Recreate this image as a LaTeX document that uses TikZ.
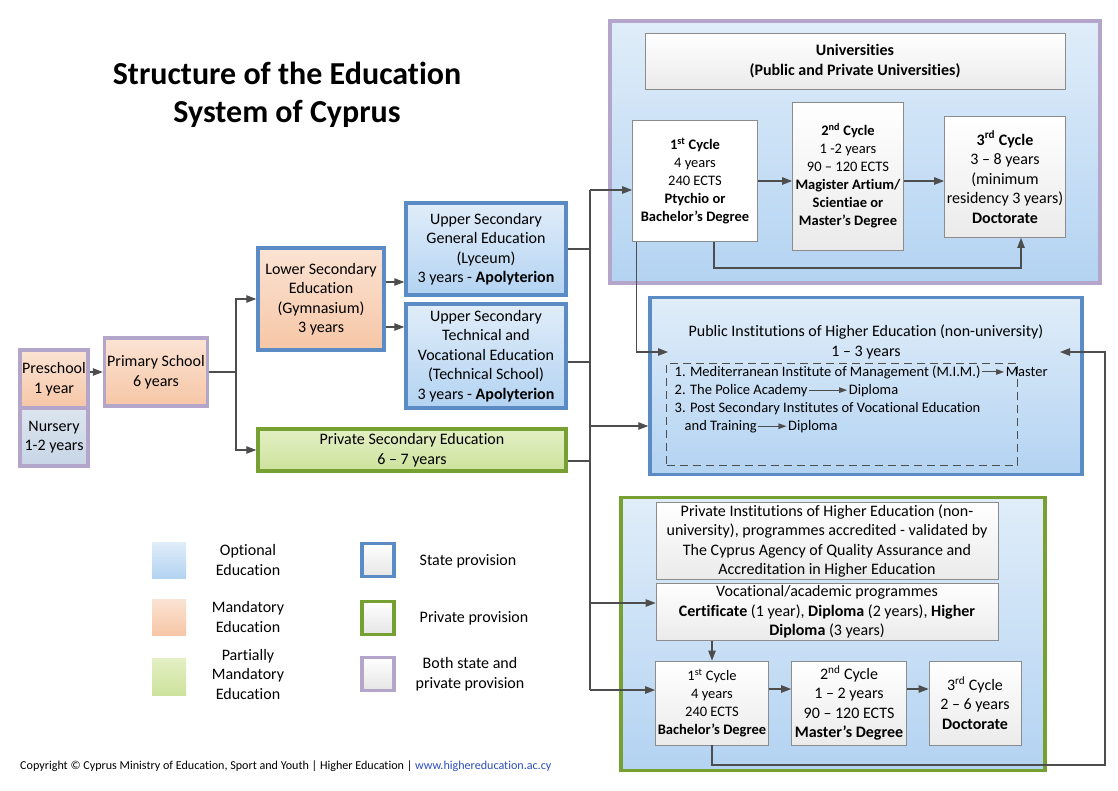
\documentclass[tikz,border=0pt]{standalone}
\usepackage{fontspec}
\setmainfont{Carlito}[Ligatures={NoCommon}]
\usetikzlibrary{arrows.meta}
\usetikzlibrary{positioning}

\definecolor{stateblue}{HTML}{5B8BC5}
\definecolor{privgreen}{HTML}{77A033}
\definecolor{bothlilac}{HTML}{B4A5CA}
\definecolor{peachtop}{HTML}{FBE3D3}
\definecolor{peachbot}{HTML}{F6C6A6}
\definecolor{bluetop}{HTML}{E0EDF9}
\definecolor{bluebot}{HTML}{B3D3F2}
\definecolor{greentop}{HTML}{E3F0C4}
\definecolor{greenbot}{HTML}{CDE29C}
\definecolor{greytop}{HTML}{DCE5EF}
\definecolor{greybot}{HTML}{C7D5E6}
\definecolor{linegrey}{HTML}{4D4D4D}
\definecolor{boxgrey}{HTML}{8C8C8C}
\definecolor{urlblue}{HTML}{2E4FBF}

\tikzset{
    txt/.style={font=\fontsize{16}{19.5}\selectfont},
    sml/.style={font=\fontsize{14.5}{18}\selectfont},
    box/.style={txt, draw, align=center, inner sep=0pt},
    state/.style={box, draw=stateblue, line width=3.5pt},
    private/.style={box, draw=privgreen, line width=3.5pt},
    both/.style={box, draw=bothlilac, line width=3.5pt},
    mandatory/.style={top color=peachtop, bottom color=peachbot},
    optional/.style={top color=bluetop, bottom color=bluebot},
    partial/.style={top color=greentop, bottom color=greenbot},
    nursery/.style={top color=greytop, bottom color=greybot},
    cyclebox/.style={box, draw=boxgrey, line width=0.8pt, top color=white, bottom color=black!8},
    conn/.style={draw=linegrey, line width=1.1pt},
    arr/.style={conn, -{Triangle[length=10pt,width=7.5pt]}},
    sarr/.style={conn, -{Triangle[length=8pt,width=5.5pt]}},
    item/.style={sml, inner sep=1.5pt}
}

\begin{document}
\begin{tikzpicture}[x=1pt, y=-1pt]
    \path[fill=white, use as bounding box] (0,0) rectangle (1118,790);

    \node[font=\fontsize{32}{38}\selectfont\bfseries, align=center] (title) at (287,95) {Structure of the Education\\System of Cyprus};

    % school
    \node[both, mandatory, minimum width=68, minimum height=58] (pre) at (54,379) {Preschool\\1 year};
    \node[both, nursery, minimum width=68, minimum height=58] (nur) at (54,437) {Nursery\\1-2 years};
    \node[both, mandatory, minimum width=103, minimum height=68] (prim) at (156,372) {Primary School\\6 years};
    \node[state, mandatory, minimum width=126, minimum height=102] (low) at (321,299) {Lower Secondary\\Education\\(Gymnasium)\\3 years};
    \node[state, optional, minimum width=160, minimum height=92] (ugen) at (486,249) {Upper Secondary\\General Education\\(Lyceum)\\3 years - \textbf{Apolyterion}};
    \node[state, optional, minimum width=160, minimum height=104] (utec) at (486,356) {Upper Secondary\\Technical and\\Vocational Education\\(Technical School)\\3 years - \textbf{Apolyterion}};
    \node[private, partial, minimum width=308, minimum height=42] (psec) at (412,450) {Private Secondary Education\\6 – 7 years};

    % universities
    \node[both, optional, minimum width=490, minimum height=262] (uni) at (855,152) {};
    \node[cyclebox, minimum width=420, minimum height=56, font=\fontsize{16}{20}\selectfont\bfseries] (unihead) at (855,61) {Universities\\(Public and Private Universities)};
    \node[cyclebox, sml, top color=white, bottom color=white, minimum width=125, minimum height=121] (cyc1u) at (695,181) {\textbf{1\textsuperscript{st} Cycle}\\4 years\\240 ECTS\\\textbf{Ptychio or}\\\textbf{Bachelor’s Degree}};
    \node[cyclebox, sml, minimum width=111, minimum height=148] (cyc2u) at (848,176) {\textbf{2\textsuperscript{nd} Cycle}\\1 -2 years\\90 – 120 ECTS\\\textbf{Magister Artium/}\\\textbf{Scientiae or}\\\textbf{Master’s Degree}};
    \node[cyclebox, minimum width=121, minimum height=121] (cyc3u) at (1005,177) {\textbf{3\textsuperscript{rd} Cycle}\\3 – 8 years\\(minimum\\residency 3 years)\\\textbf{Doctorate}};

    % public non-university
    \node[state, optional, minimum width=432, minimum height=177] (pub) at (866,386) {};
    \node[txt, align=center, font=\fontsize{16}{20}\selectfont] (pubhead) at (866,342) {Public Institutions of Higher Education (non-university)\\1 – 3 years};
    \node[draw=linegrey, line width=1pt, dash pattern=on 8pt off 5pt, minimum width=351, minimum height=102] (publist) at (842,414) {};
    \node[item, anchor=base west] (mim) at (673,376) {1. Mediterranean Institute of Management (M.I.M.)};
    \node[item, base right=22pt of mim] (master) {Master};
    \node[item, anchor=base west] (police) at (673,394) {2. The Police Academy};
    \node[item, base right=38pt of police] (dip2) {Diploma};
    \node[item, anchor=base west] (post) at (673,412) {3. Post Secondary Institutes of Vocational Education};
    \node[item, anchor=base west] (train) at (683,430) {and Training};
    \node[item, base right=28pt of train] (dip3) {Diploma};

    % private non-university
    \node[private, optional, minimum width=424, minimum height=273] (priv) at (833,634) {};
    \node[cyclebox, minimum width=342, minimum height=77] (privhead) at (827,541) {Private Institutions of Higher Education (non-\\university), programmes accredited - validated by\\The Cyprus Agency of Quality Assurance and\\Accreditation in Higher Education};
    \node[cyclebox, minimum width=342, minimum height=57] (voc) at (827,612) {Vocational/academic programmes\\\textbf{Certificate} (1 year), \textbf{Diploma} (2 years), \textbf{Higher}\\\textbf{Diploma} (3 years)};
    \node[cyclebox, sml, minimum width=113, minimum height=84] (cyc1p) at (712,703) {1\textsuperscript{st} Cycle\\4 years\\240 ECTS\\\textbf{Bachelor’s Degree}};
    \node[cyclebox, minimum width=115, minimum height=84] (cyc2p) at (849,703) {2\textsuperscript{nd} Cycle\\1 – 2 years\\90 – 120 ECTS\\\textbf{Master’s Degree}};
    \node[cyclebox, minimum width=92, minimum height=84] (cyc3p) at (975,703) {3\textsuperscript{rd} Cycle\\2 – 6 years\\\textbf{Doctorate}};

    % legend
    \node[optional, minimum width=34, minimum height=36] (swopt) at (169,560) {};
    \node[txt, align=center] (lgopt) at (248,560) {Optional\\Education};
    \node[mandatory, minimum width=34, minimum height=36] (swman) at (169,617) {};
    \node[txt, align=center] (lgman) at (248,617) {Mandatory\\Education};
    \node[partial, minimum width=34, minimum height=37] (swpar) at (169,677) {};
    \node[txt, align=center] (lgpar) at (248,674) {Partially\\Mandatory\\Education};
    \node[state, top color=white, bottom color=black!10, minimum width=32, minimum height=33] (sqstate) at (378,560) {};
    \node[txt] (lgstate) at (468,561) {State provision};
    \node[private, top color=white, bottom color=black!10, minimum width=32, minimum height=33] (sqpriv) at (378,618) {};
    \node[txt] (lgpriv) at (474,618) {Private provision};
    \node[both, top color=white, bottom color=black!10, minimum width=32, minimum height=33] (sqboth) at (378,674) {};
    \node[txt, align=center] (lgboth) at (470,674) {Both state and\\private provision};

    \node[anchor=west, inner sep=0pt, font=\fontsize{12.1}{14}\selectfont] (copy) at (20,766) {Copyright © Cyprus Ministry of Education, Sport and Youth | Higher Education | \textcolor{urlblue}{www.highereducation.ac.cy}};

    % connectors
    \coordinate (split) at (236,372);
    \coordinate (t1) at (590,190);
    \coordinate (t2) at (590,426);
    \coordinate (t3) at (590,603);
    \coordinate (t4) at (590,690);
    \coordinate (loop) at (1021,268);
    \coordinate (pubin) at (668,352);
    \coordinate (pubback) at (1060,352);
    \coordinate (back) at (1105,765);

    \draw[arr] (prim.west -| pre.east) -- (prim.west);
    \draw[conn] (prim.east) -- (split);
    \draw[arr] (split) |- (low.west);
    \draw[arr] (split) |- (psec.west);
    \draw[arr] ([yshift=17]low.east) -- ([yshift=17]low.east -| ugen.west);
    \draw[arr] ([yshift=-28]low.east) -- ([yshift=-28]low.east -| utec.west);

    \draw[conn] (t1) -- (t4);
    \draw[conn] (ugen.east) -- (ugen.east -| t1);
    \draw[conn] ([yshift=-6]utec.east) -- ([yshift=-6]utec.east -| t1);
    \draw[conn] ([yshift=-11]psec.east) -- ([yshift=-11]psec.east -| t1);
    \draw[arr] (t1) -- (t1 -| cyc1u.west);
    \draw[arr] (t2) -- (t2 -| pub.west);
    \draw[arr] (t3) -- (t3 -| voc.west);
    \draw[arr] (t4) -- (t4 -| cyc1p.west);

    \draw[arr] (cyc1u.east) -- (cyc1u.east -| cyc2u.west);
    \draw[arr] (cyc2u.east |- cyc1u.east) -- (cyc3u.west |- cyc1u.east);
    \draw[arr] ([xshift=19]cyc1u.south) |- (loop) -- (loop |- cyc3u.south);
    \draw[arr] ([xshift=4.5]cyc1u.south west) |- (pubin);

    \draw[sarr] (mim.east) -- (mim.east -| master.west);
    \draw[sarr] (police.east) -- (police.east -| dip2.west);
    \draw[sarr] (train.east) -- (train.east -| dip3.west);

    \draw[arr] (cyc1p.north |- voc.south) -- (cyc1p.north);
    \draw[arr] ([yshift=14]cyc1p.east) -- ([yshift=14]cyc1p.east -| cyc2p.west);
    \draw[arr] ([yshift=14]cyc2p.east) -- ([yshift=14]cyc2p.east -| cyc3p.west);
    \draw[arr] (cyc1p.south) |- (back) |- (pubback);
\end{tikzpicture}
\end{document}
